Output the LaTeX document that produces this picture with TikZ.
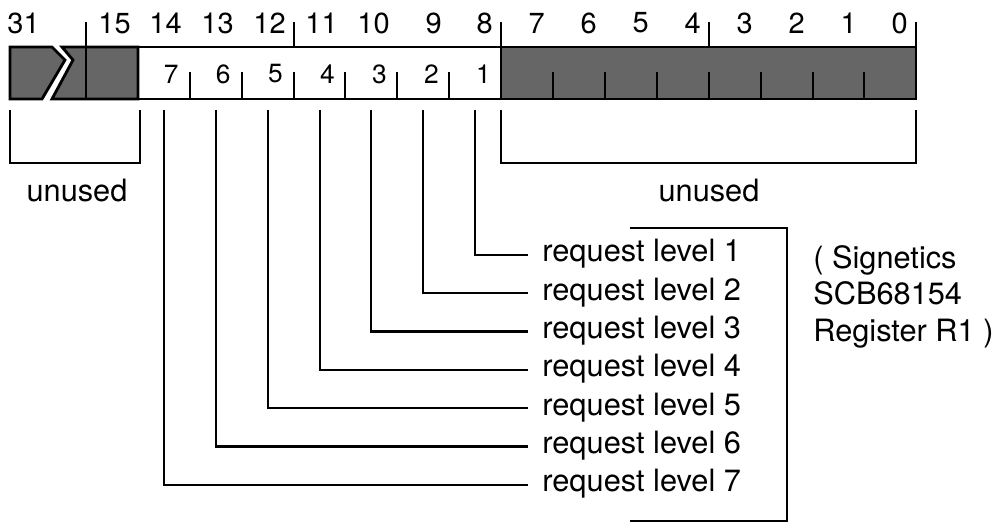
\documentclass[tikz,border=0pt]{standalone}
\usepackage{fontspec}
\setmainfont{TeX Gyre Heros}
\usetikzlibrary{positioning}

\begin{document}
\begin{tikzpicture}[
	x=0.02cm, y=-0.02cm,
	reg/.style={line width=1.6pt},
	shaded/.style={reg, fill=black!60},
	tick/.style={line width=1.1pt},
	brace/.style={line width=1.3pt},
	bitno/.style={anchor=east, inner sep=0pt, font=\fontsize{16.5}{16.5}\selectfont},
	lvlno/.style={anchor=east, inner sep=0pt, font=\fontsize{15}{15}\selectfont},
	lbl/.style={inner sep=0pt, font=\fontsize{17.5}{21}\selectfont},
	req/.style={lbl, anchor=west, inner xsep=8pt, text height=1em, text depth=0.22em}
	]
	\useasboundingbox (0,0) rectangle (1000,523);
	
	% register bar
	\draw[shaded] (10,47) -- (52,47) -- (65,60) -- (42,99) -- (10,99) -- cycle;
	\draw[shaded] (62,47) -- (73,60) -- (52,99) -- (138,99) -- (138,47) -- cycle;
	\draw[reg] (138,47) rectangle (501,99);
	\draw[shaded] (501,47) rectangle (916,99);
	\draw[tick] (86,47) -- (86,99);
	
	% ticks above the bar
	\draw[tick] (86,22) -- (86,47);
	\draw[tick] (294,22) -- (294,47);
	\draw[tick] (501,22) -- (501,47);
	\draw[tick] (709,22) -- (709,47);
	\draw[tick] (916,22) -- (916,47);
	
	% ticks inside the bar
	\draw[tick] (190,72) -- (190,99);
	\draw[tick] (242,72) -- (242,99);
	\draw[tick] (294,72) -- (294,99);
	\draw[tick] (345,72) -- (345,99);
	\draw[tick] (397,72) -- (397,99);
	\draw[tick] (449,72) -- (449,99);
	\draw[tick] (553,72) -- (553,99);
	\draw[tick] (605,72) -- (605,99);
	\draw[tick] (657,72) -- (657,99);
	\draw[tick] (709,72) -- (709,99);
	\draw[tick] (761,72) -- (761,99);
	\draw[tick] (813,72) -- (813,99);
	\draw[tick] (864,72) -- (864,99);
	
	% bit numbers
	\node[bitno, anchor=center] (n31) at (23.5,23) {31};
	\node[bitno] (n15) at (131,23) {15};
	\node[bitno] (n14) at (182,23) {14};
	\node[bitno] (n13) at (234,23) {13};
	\node[bitno] (n12) at (286,23) {12};
	\node[bitno] (n11) at (338,23) {11};
	\node[bitno] (n10) at (390,23) {10};
	\node[bitno] (n9) at (442,23) {9};
	\node[bitno] (n8) at (493,23) {8};
	\node[bitno] (n7) at (545,23) {7};
	\node[bitno] (n6) at (597,23) {6};
	\node[bitno] (n5) at (649,23) {5};
	\node[bitno] (n4) at (701,23) {4};
	\node[bitno] (n3) at (753,23) {3};
	\node[bitno] (n2) at (805,23) {2};
	\node[bitno] (n1) at (857,23) {1};
	\node[bitno] (n0) at (908,23) {0};
	
	% level numbers
	\node[lvlno] (l7) at (179,74) {7};
	\node[lvlno] (l6) at (231,74) {6};
	\node[lvlno] (l5) at (283,74) {5};
	\node[lvlno] (l4) at (335,74) {4};
	\node[lvlno] (l3) at (387,74) {3};
	\node[lvlno] (l2) at (439,74) {2};
	\node[lvlno] (l1) at (491,74) {1};
	
	% unused fields
	\draw[brace] (10,110) -- (10,163) -- (140,163) -- (140,110);
	\draw[brace] (501,110) -- (501,163) -- (916,163) -- (916,110);
	\node[lbl, anchor=base] (unl) at (77,202) {unused};
	\node[lbl, anchor=base] (unr) at (709,202) {unused};
	
	% request levels
	\coordinate (b8) at (475,110);
	\coordinate (b9) at (423,110);
	\coordinate (b10) at (371,110);
	\coordinate (b11) at (320,110);
	\coordinate (b12) at (268,110);
	\coordinate (b13) at (216,110);
	\coordinate (b14) at (164,110);
	\node[req] (r1) at (528,255) {request level 1};
	\node[req] (r2) at (528,293.3) {request level 2};
	\node[req] (r3) at (528,331.6) {request level 3};
	\node[req] (r4) at (528,369.9) {request level 4};
	\node[req] (r5) at (528,408.2) {request level 5};
	\node[req] (r6) at (528,446.5) {request level 6};
	\node[req] (r7) at (528,484.8) {request level 7};
	
	\draw[brace] (b8) |- (r1.west);
	\draw[brace] (b9) |- (r2.west);
	\draw[brace] (b10) |- (r3.west);
	\draw[brace] (b11) |- (r4.west);
	\draw[brace] (b12) |- (r5.west);
	\draw[brace] (b13) |- (r6.west);
	\draw[brace] (b14) |- (r7.west);
	
	% register name
	\draw[brace] (630,228) -- (787,228) -- (787,521) -- (630,521);
	\node[lbl, anchor=base west, align=left, font=\fontsize{17.5}{20.5}\selectfont]
	(sig) at (813,341) {( Signetics\\SCB68154\\Register R1 )};
\end{tikzpicture}
\end{document}
